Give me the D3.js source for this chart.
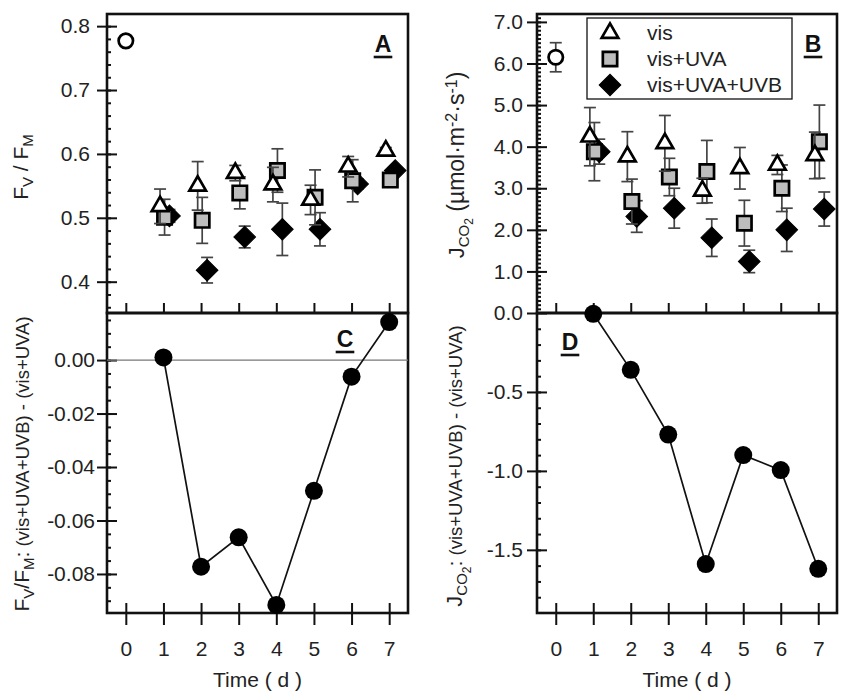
<!DOCTYPE html>
<html>
<head>
<meta charset="utf-8">
<script src="https://cdn.jsdelivr.net/npm/d3@7"></script>
<style>
body { margin: 0; background: #fff; }
svg { font-family: "Liberation Sans", Arial, sans-serif; }
</style>
</head>
<body>
<div id="chart"></div>
<script>
// days of treatment
var days = [1, 2, 3, 4, 5, 6, 7];
var xTickValues = [0, 1, 2, 3, 4, 5, 6, 7];

// panel A: Fv/Fm
var fvfmStart = 0.777;
var fvfmVis = [0.518, 0.550, 0.570, 0.552, 0.528, 0.580, 0.605];
var fvfmVisErr = [0.027, 0.038, 0.012, 0.027, 0.023, 0.016, 0.005];
var fvfmUva = [0.501, 0.496, 0.539, 0.574, 0.532, 0.558, 0.559];
var fvfmUvaErr = [0.028, 0.036, 0.025, 0.034, 0.043, 0.033, 0.005];
var fvfmUvb = [0.503, 0.418, 0.470, 0.482, 0.482, 0.553, 0.574];
var fvfmUvbErr = [0.010, 0.020, 0.017, 0.041, 0.026, 0.008, 0.005];

// panel B: JCO2
var jco2Start = 6.15;
var jco2StartErr = 0.35;
var jco2Vis = [4.24, 3.76, 4.08, 2.94, 3.48, 3.56, 3.79];
var jco2VisErr = [0.70, 0.60, 0.67, 0.30, 0.50, 0.23, 0.56];
var jco2Uva = [3.88, 2.68, 3.27, 3.40, 2.16, 3.00, 4.12];
var jco2UvaErr = [0.70, 0.54, 0.45, 0.75, 0.55, 0.56, 0.88];
var jco2Uvb = [3.88, 2.32, 2.52, 1.81, 1.24, 2.00, 2.50];
var jco2UvbErr = [0.30, 0.38, 0.48, 0.45, 0.27, 0.52, 0.41];

// panels C and D: UVB effect
var fvfmDiff = [0.001, -0.0773, -0.0663, -0.0916, -0.0489, -0.0062, 0.0142];
var jco2Diff = [-0.005, -0.36, -0.77, -1.59, -0.90, -0.995, -1.62];

var legendLabels = ["vis", "vis+UVA", "vis+UVA+UVB"];

var width = 845, height = 692;
var svg = d3.select("#chart").append("svg")
    .attr("width", width)
    .attr("height", height);

var fontSize = 21;

function makePanel(cfg) {
    var g = svg.append("g").attr("transform", `translate(${cfg.left},${cfg.top})`);
    var x = d3.scaleLinear().domain([-0.5, 7.5]).range([0, cfg.w]);
    var y = d3.scaleLinear().domain(cfg.yDomain).range([cfg.h, 0]);

    // minor ticks, inward
    g.append("g").attr("class", "ax")
        .call(d3.axisRight(y).tickValues(cfg.minor).tickSize(4).tickFormat(""));
    // major ticks, crossing the axis
    g.append("g").attr("class", "ax")
        .call(d3.axisRight(y).tickValues(cfg.major).tickSize(10).tickFormat(""));
    g.append("g").attr("class", "ax ylab")
        .call(d3.axisLeft(y).tickValues(cfg.major).tickSize(10).tickPadding(cfg.pad)
            .tickFormat(d => d3.format(cfg.fmt)(d).replace("\u2212", "-")));

    // x ticks
    g.append("g").attr("class", "ax")
        .attr("transform", `translate(0,${cfg.h})`)
        .call(d3.axisTop(x).tickValues(xTickValues).tickSize(10).tickFormat(""));
    if (cfg.bottom) {
        g.append("g").attr("class", "ax xlab")
            .attr("transform", `translate(0,${cfg.h})`)
            .call(d3.axisBottom(x).tickValues(xTickValues).tickSize(12).tickPadding(16));
        g.append("text")
            .attr("x", cfg.w / 2)
            .attr("y", cfg.h + 74)
            .attr("text-anchor", "middle")
            .style("font-size", fontSize + "px")
            .attr("fill", "#222")
            .text("Time ( d )");
    }

    g.selectAll(".ax .domain").remove();
    g.selectAll(".ax line").attr("stroke", "#111").attr("stroke-width", 2);
    g.selectAll(".ax text").style("font-size", fontSize + "px").attr("fill", "#222");

    // frame
    g.append("rect")
        .attr("width", cfg.w)
        .attr("height", cfg.h)
        .attr("fill", "none")
        .attr("stroke", "#111")
        .attr("stroke-width", 2.6);

    // panel letter, bold and underlined
    var lt = g.append("text")
        .attr("x", cfg.letterX)
        .attr("y", cfg.letterY)
        .attr("text-anchor", "middle")
        .style("font-size", "23px")
        .style("font-weight", "bold")
        .attr("fill", "#111")
        .text(cfg.letter);
    var lw = lt.node().getComputedTextLength();
    g.append("line")
        .attr("x1", cfg.letterX - lw / 2 - 1).attr("x2", cfg.letterX + lw / 2 + 1)
        .attr("y1", cfg.letterY + 5).attr("y2", cfg.letterY + 5)
        .attr("stroke", "#111").attr("stroke-width", 2.6);

    return { g: g, x: x, y: y };
}

var symTri = d3.symbol().type(d3.symbolTriangle).size(120)();
var symSq = d3.symbol().type(d3.symbolSquare).size(205)();
var symDia = d3.symbol().type(d3.symbolSquare).size(235)();

function errBar(p, cx, lo, hi) {
    p.g.append("line")
        .attr("x1", cx).attr("x2", cx)
        .attr("y1", p.y(lo)).attr("y2", p.y(hi))
        .attr("stroke", "#444").attr("stroke-width", 1.7);
    [lo, hi].forEach(v => {
        p.g.append("line")
            .attr("x1", cx - 6).attr("x2", cx + 6)
            .attr("y1", p.y(v)).attr("y2", p.y(v))
            .attr("stroke", "#444").attr("stroke-width", 1.7);
    });
}

function drawSeries(p, vals, errs, offset, kind) {
    var pts = days.map((d, i) => ({ d: d, v: vals[i], e: errs[i] }));
    pts.forEach(pt => errBar(p, p.x(pt.d + offset), pt.v - pt.e, pt.v + pt.e));
    pts.forEach(pt => {
        var m = p.g.append("path")
            .attr("transform", `translate(${p.x(pt.d + offset)},${p.y(pt.v)})` + (kind === "dia" ? " rotate(45)" : ""));
        styleMarker(m, kind);
    });
}

function styleMarker(m, kind) {
    if (kind === "tri") {
        m.attr("d", symTri).attr("fill", "#fff").attr("stroke", "#000").attr("stroke-width", 2.7);
    } else if (kind === "sq") {
        m.attr("d", symSq).attr("fill", "#bdbdbd").attr("stroke", "#000").attr("stroke-width", 2.7);
    } else {
        m.attr("d", symDia).attr("fill", "#000").attr("stroke", "#000").attr("stroke-width", 1);
    }
}

function drawStart(p, v, e) {
    var cx = p.x(0);
    if (e > 0) errBar(p, cx, v - e, v + e);
    p.g.append("circle").attr("cx", cx).attr("cy", p.y(v)).attr("r", 7.2)
        .attr("fill", "#fff").attr("stroke", "#000").attr("stroke-width", 2.7);
}

function drawDiff(p, vals) {
    var line = d3.line().x((d, i) => p.x(days[i])).y(d => p.y(d));
    p.g.append("path").datum(vals)
        .attr("d", line).attr("fill", "none")
        .attr("stroke", "#111").attr("stroke-width", 1.7);
    p.g.selectAll("circle.dot").data(vals).enter()
        .append("circle").attr("class", "dot")
        .attr("cx", (d, i) => p.x(days[i])).attr("cy", d => p.y(d))
        .attr("r", 9).attr("fill", "#000");
}

// rotated y-label built from tspans: parts = [text, size, dy]
function yLabel(cx, cy, parts) {
    var t = svg.append("text")
        .attr("transform", `translate(${cx},${cy}) rotate(-90)`)
        .attr("text-anchor", "middle")
        .attr("fill", "#222");
    parts.forEach(p => {
        t.append("tspan").style("font-size", p[1] + "px").attr("dy", p[2]).text(p[0]);
    });
}

// panels
var pA = makePanel({
    left: 107, top: 14, w: 301, h: 299,
    yDomain: [0.351, 0.819], major: [0.4, 0.5, 0.6, 0.7, 0.8],
    minor: d3.range(0.36, 0.82, 0.02), fmt: ".1f", pad: 7,
    letter: "A", letterX: 276, letterY: 38, bottom: false
});
var pB = makePanel({
    left: 537, top: 14, w: 300, h: 299,
    yDomain: [0, 7.19], major: [1, 2, 3, 4, 5, 6, 7],
    minor: d3.range(0.1, 7.2, 0.1), fmt: ".1f", pad: 4,
    letter: "B", letterX: 276, letterY: 38, bottom: false
});
var pC = makePanel({
    left: 107, top: 313, w: 301, h: 300,
    yDomain: [-0.0946, 0.0176], major: [0, -0.02, -0.04, -0.06, -0.08],
    minor: d3.range(-0.09, 0.018, 0.005), fmt: ".2f", pad: 2,
    letter: "C", letterX: 238, letterY: 34, bottom: true
});
var pD = makePanel({
    left: 537, top: 313, w: 300, h: 300,
    yDomain: [-1.9, 0], major: [0, -0.5, -1.0, -1.5],
    minor: d3.range(-1.8, 0, 0.1), fmt: ".1f", pad: 4,
    letter: "D", letterX: 33, letterY: 37, bottom: true
});

// zero line in C
pC.g.append("line")
    .attr("x1", 0).attr("x2", 301)
    .attr("y1", pC.y(0)).attr("y2", pC.y(0))
    .attr("stroke", "#777").attr("stroke-width", 1.3);

// panel A series
drawStart(pA, fvfmStart, 0);
drawSeries(pA, fvfmUvb, fvfmUvbErr, 0.16, "dia");
drawSeries(pA, fvfmUva, fvfmUvaErr, 0.03, "sq");
drawSeries(pA, fvfmVis, fvfmVisErr, -0.09, "tri");

// panel B series
drawStart(pB, jco2Start, jco2StartErr);
drawSeries(pB, jco2Uvb, jco2UvbErr, 0.16, "dia");
drawSeries(pB, jco2Uva, jco2UvaErr, 0.03, "sq");
drawSeries(pB, jco2Vis, jco2VisErr, -0.09, "tri");

// panels C, D
drawDiff(pC, fvfmDiff);
drawDiff(pD, jco2Diff);

// legend in B
var leg = svg.append("g").attr("transform", "translate(587,18)");
leg.append("rect").attr("width", 205).attr("height", 81)
    .attr("fill", "#fff").attr("stroke", "#111").attr("stroke-width", 1.3);
["tri", "sq", "dia"].forEach((k, i) => {
    var m = leg.append("path")
        .attr("transform", `translate(23,${15 + i * 26})` + (k === "dia" ? " rotate(45)" : ""));
    styleMarker(m, k);
    leg.append("text")
        .attr("x", 60).attr("y", 15 + i * 26 + 7)
        .style("font-size", fontSize + "px")
        .attr("fill", "#222")
        .text(legendLabels[i]);
});

// axis titles
yLabel(28, 167, [["F", 21, 0], ["V", 15, 5], [" / F", 21, -5], ["M", 15, 5], ["", 21, -5]]);
yLabel(464, 165, [["J", 22, 0], ["CO", 15, 5], ["2", 12, 4], ["   (\u00b5mol\u00b7m", 23, -9], ["-2", 16, -7], ["\u00b7s", 23, 7], ["-1", 16, -7], [")", 23, 7]]);
yLabel(29, 464, [["F", 21, 0], ["V", 15, 5], ["/F", 21, -5], ["M", 15, 5], [":", 21, -5], [" (vis+UVA+UVB) - (vis+UVA)", 18.5, 0]]);
yLabel(462, 466, [["J", 22, 0], ["CO", 15, 5], ["2", 12, 4], [":", 21, -9], [" (vis+UVA+UVB) - (vis+UVA)", 18.5, 0]]);
</script>
</body>
</html>
